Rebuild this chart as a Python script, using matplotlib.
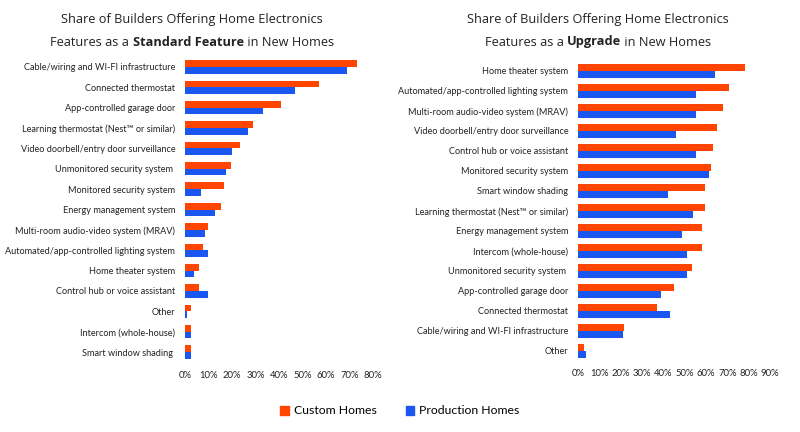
import matplotlib
matplotlib.use("Agg")
import matplotlib.pyplot as plt
from matplotlib.patches import Patch
import numpy as np

# ---- data ----
std_categories = [
    "Cable/wiring and WI-FI infrastructure",
    "Connected thermostat",
    "App-controlled garage door",
    "Learning thermostat (Nest\u2122 or similar)",
    "Video doorbell/entry door surveillance",
    "Unmonitored security system ",
    "Monitored security system",
    "Energy management system",
    "Multi-room audio-video system (MRAV)",
    "Automated/app-controlled lighting system",
    "Home theater system",
    "Control hub or voice assistant",
    "Other",
    "Intercom (whole-house)",
    "Smart window shading ",
]
std_custom = [73, 57, 41, 29, 23.5, 19.5, 16.5, 15.5, 9.7, 7.6, 5.8, 5.8, 2.6, 2.6, 2.6]
std_production = [69, 47, 33, 27, 20, 17.5, 6.7, 12.6, 8.6, 9.7, 3.7, 9.7, 0.8, 2.6, 2.6]

upg_categories = [
    "Home theater system",
    "Automated/app-controlled lighting system",
    "Multi-room audio-video system (MRAV)",
    "Video doorbell/entry door surveillance",
    "Control hub or voice assistant",
    "Monitored security system",
    "Smart window shading",
    "Learning thermostat (Nest\u2122 or similar)",
    "Energy management system",
    "Intercom (whole-house)",
    "Unmonitored security system ",
    "App-controlled garage door",
    "Connected thermostat",
    "Cable/wiring and WI-FI infrastructure",
    "Other",
]
upg_custom = [78.5, 71, 68, 65, 63.4, 62.3, 59.5, 59.5, 58.2, 58.2, 53.5, 45, 37, 21.7, 2.7]
upg_production = [64, 55.4, 55.4, 46, 55.4, 61.5, 42.3, 54, 48.9, 51, 51, 39, 43, 21, 3.6]

std_ticks = [0, 10, 20, 30, 40, 50, 60, 70, 80]
upg_ticks = [0, 10, 20, 30, 40, 50, 60, 70, 80, 90]

series_names = ["Custom Homes", "Production Homes"]
ORANGE = "#FF4500"
BLUE = "#1A56F0"
LABEL_FONT = "Lato"
TITLE_FONT = "Open Sans"

W, H = 800, 432
fig = plt.figure(figsize=(8, 4.32), dpi=100)
fig.patch.set_facecolor("white")


def make_panel(rect, cats, custom, prod, ticks):
    ax = fig.add_axes(rect)
    y = np.arange(len(cats))
    h = 0.33
    ax.barh(y - h / 2, custom, height=h, color=ORANGE, edgecolor="none")
    ax.barh(y + h / 2, prod, height=h, color=BLUE, edgecolor="none")
    ax.set_ylim(len(cats) - 0.5, -0.5)
    ax.set_xlim(0, ticks[-1])
    ax.set_yticks(y)
    ax.set_yticklabels(cats, fontsize=6.6, family=LABEL_FONT, color="#222222")
    ax.set_xticks(ticks)
    ax.set_xticklabels([f"{t}%" for t in ticks], fontsize=6.8, family=LABEL_FONT, color="#222222")
    ax.tick_params(axis="both", length=0)
    ax.tick_params(axis="y", pad=7)
    ax.tick_params(axis="x", pad=6)
    for s in ax.spines.values():
        s.set_visible(False)
    return ax


def px_rect(x0, x1, ytop, ybot):
    return [x0 / W, 1 - ybot / H, (x1 - x0) / W, (ybot - ytop) / H]


ax1 = make_panel(px_rect(185, 373, 56.8, 362.2), std_categories, std_custom, std_production, std_ticks)
ax2 = make_panel(px_rect(578, 770, 61, 361), upg_categories, upg_custom, upg_production, upg_ticks)

renderer = fig.canvas.get_renderer()


def title(cx, line1, pre, bold, post, fs=9.2):
    fig.text(cx / W, 1 - 20 / H, line1, ha="center", va="center", fontsize=fs,
             family=TITLE_FONT, color="#222222")
    parts = [(pre, "normal"), (bold, "bold"), (post, "normal")]
    texts = [fig.text(0, 1 - 42 / H, s, ha="left", va="center", fontsize=fs,
                      family=TITLE_FONT, fontweight=w, color="#222222") for s, w in parts]
    widths = [t.get_window_extent(renderer).width for t in texts]
    x = cx - sum(widths) / 2
    for t, w in zip(texts, widths):
        t.set_x(x / W)
        x += w


title(192, "Share of Builders Offering Home Electronics", "Features as a ", "Standard Feature", " in New Homes")
title(598, "Share of Builders Offering Home Electronics", "Features as a ", "Upgrade", " in New Homes")

handles = [Patch(color=ORANGE), Patch(color=BLUE)]
fig.legend(handles, series_names, loc="center", bbox_to_anchor=(400 / W, 1 - 411 / H),
           ncol=2, frameon=False, prop={"family": LABEL_FONT, "size": 8.8},
           handlelength=0.7, handleheight=0.7, handletextpad=0.4, columnspacing=2.4)

fig.savefig("out.png", dpi=100, facecolor="white")
